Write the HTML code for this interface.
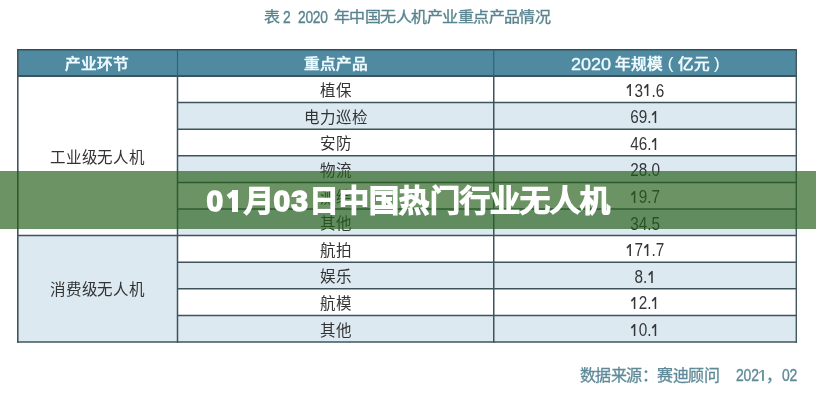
<!DOCTYPE html>
<html lang="zh-CN">
<head>
<meta charset="utf-8">
<style>
*{margin:0;padding:0;box-sizing:border-box;}
html,body{width:816px;height:400px;overflow:hidden;background:#fff;}
body{position:relative;font-family:"Liberation Sans",sans-serif;}
#w{position:absolute;left:0;top:0;width:816px;height:400px;will-change:transform;}
.title{position:absolute;left:263.5px;top:8px;font-size:16px;line-height:20px;color:#58848f;white-space:nowrap;-webkit-text-stroke:0.35px #58848f;}
.tn{display:inline-block;font-size:16px;letter-spacing:-0.3px;transform:scaleX(0.86);transform-origin:0 0;}
.tc{display:inline-block;transform:scaleY(0.9);transform-origin:50% 6px;}
.grid{position:absolute;left:0;top:0;}
.vl{position:absolute;width:1.6px;background:#3e545d;}
.h,.p,.n{position:absolute;display:flex;align-items:center;justify-content:center;white-space:nowrap;}
.h{color:#eefbff;font-size:15.6px;-webkit-text-stroke:0.75px #eefbff;padding-top:0.5px;transform:scaleY(0.93);}
.hn{font-size:18px;-webkit-text-stroke:0.4px #eefbff;position:relative;top:1.8px;}
.hp{font-size:17px;-webkit-text-stroke:0.1px #eefbff;}
.p{color:#333;font-size:15.5px;}
.l{letter-spacing:-0.3px;}
.u{padding-bottom:2px;}
.n{color:#343638;font-size:17.6px;padding-top:3.5px;}
.n span{display:inline-block;transform:scaleX(0.87);}
.one{position:relative;color:transparent;-webkit-text-stroke-color:transparent;}
.one::before,.one::after{content:"";position:absolute;background:var(--c);}
.one::before{left:0.2515em;width:0.0885em;top:0.217em;height:0.688em;}
.one::after{left:-0.04em;width:0.3em;top:0.217em;height:0.09em;transform-origin:100% 0;transform:rotate(-38deg);}
.n{--c:#343638;}
.sn{--c:#5e8a98;}
.sn .one::before{margin-left:-0.2px;width:calc(0.0885em + 0.4px);}
.ob{--c:#fff;}
.ob::before{left:calc(0.233em - 0.6px);width:calc(0.137em + 2.4px);top:calc(0.217em - 0.8px);height:calc(0.688em + 1.6px);}
.ob::after{left:calc(0.0em - 0.8px);width:0.28em;top:calc(0.217em - 0.8px);height:calc(0.1em + 1.6px);transform:rotate(-36deg);}
.src{position:absolute;top:366px;font-size:16px;line-height:20px;color:#5e8a98;white-space:nowrap;-webkit-text-stroke:0.3px #5e8a98;}
.sn{display:inline-block;font-size:16px;letter-spacing:-0.2px;-webkit-text-stroke:0.35px #5e8a98;transform:scaleX(0.87);transform-origin:0 0;position:relative;top:-0.5px;}
.banner{position:absolute;left:0;top:171px;width:816px;height:57.5px;background:rgba(37,96,25,0.68);}
.btxt{position:absolute;left:206.5px;top:181px;font-size:30px;line-height:40px;color:#fff;font-weight:normal;white-space:nowrap;-webkit-text-stroke:2.2px #fff;letter-spacing:0.15px;}
.d{font-size:30px;letter-spacing:2.2px;font-weight:bold;-webkit-text-stroke:1.6px #fff;}
</style>
</head>
<body>
<div id="w">
<div class="title"><span class="tc">表</span> <span class="tn" style="margin-left:-0.95px;margin-right:-1.2px">2</span> <span class="tn" style="margin-left:3.55px;margin-right:-4.8px">2020</span> <span class="tc" style="margin-left:1.55px;letter-spacing:-0.55px">年中国无人机产业重点产品情况</span></div>
<svg class="grid" width="816" height="400" viewBox="0 0 816 400"><rect x="17" y="49.6" width="780" height="26.40" fill="#508aa0"/><rect x="177.5" y="102.60" width="618.80" height="26.60" fill="#dce9f1"/><rect x="177.5" y="155.80" width="618.80" height="26.60" fill="#dce9f1"/><rect x="177.5" y="209.00" width="618.80" height="26.60" fill="#dce9f1"/><rect x="177.5" y="262.20" width="618.80" height="26.60" fill="#dce9f1"/><rect x="177.5" y="315.40" width="618.80" height="26.60" fill="#dce9f1"/><rect x="17.8" y="235.60" width="159.70" height="106.40" fill="#dce9f1"/><line x1="17" x2="797" y1="49.7" y2="49.7" stroke="#2f4f5c" stroke-width="1.4"/><line x1="17" x2="797" y1="76.0" y2="76.0" stroke="#3e545d" stroke-width="1.8"/><line x1="177.5" x2="797" y1="102.60" y2="102.60" stroke="#3e545d" stroke-width="1.5"/><line x1="177.5" x2="797" y1="129.20" y2="129.20" stroke="#3e545d" stroke-width="1.5"/><line x1="177.5" x2="797" y1="155.80" y2="155.80" stroke="#3e545d" stroke-width="1.5"/><line x1="177.5" x2="797" y1="182.40" y2="182.40" stroke="#3e545d" stroke-width="1.5"/><line x1="177.5" x2="797" y1="209.00" y2="209.00" stroke="#3e545d" stroke-width="1.5"/><line x1="17" x2="797" y1="235.60" y2="235.60" stroke="#3e545d" stroke-width="1.5"/><line x1="177.5" x2="797" y1="262.20" y2="262.20" stroke="#3e545d" stroke-width="1.5"/><line x1="177.5" x2="797" y1="288.80" y2="288.80" stroke="#3e545d" stroke-width="1.5"/><line x1="177.5" x2="797" y1="315.40" y2="315.40" stroke="#3e545d" stroke-width="1.5"/><line x1="17" x2="797" y1="342.00" y2="342.00" stroke="#3e545d" stroke-width="1.5"/><line x1="17.8" x2="17.8" y1="49" y2="342.75" stroke="#40555d" stroke-width="1.6"/><line x1="796.3" x2="796.3" y1="49" y2="342.75" stroke="#43575e" stroke-width="1.4"/><line x1="177.5" x2="177.5" y1="76.0" y2="342.75" stroke="#3e545d" stroke-width="1.5"/><line x1="177.5" x2="177.5" y1="50" y2="76.0" stroke="#2f6073" stroke-width="1.1"/><line x1="493.75" x2="493.75" y1="76.0" y2="342.75" stroke="#3e545d" stroke-width="1.5"/><line x1="493.75" x2="493.75" y1="50" y2="76.0" stroke="#2f6073" stroke-width="1.1"/></svg>
<div class="h" style="left:17px;width:160.50px;top:49.00px;height:27.00px">产业环节</div>
<div class="h" style="left:177.5px;width:316.25px;top:49.00px;height:27.00px">重点产品</div>
<div class="h" style="left:493.75px;width:303.25px;top:49.00px;height:27.00px"><span><span class="hn">2020</span>&nbsp;年规模&nbsp;<span class="hp">(</span>&nbsp;亿元&nbsp;<span class="hp">)</span></span></div>
<div class="p" style="left:177.5px;width:316.25px;top:76.00px;height:26.60px">植保</div>
<div class="n" style="left:493.75px;width:303.25px;top:76.00px;height:26.60px"><span><span class="one">1</span>3<span class="one">1</span>.6</span></div>
<div class="p" style="left:177.5px;width:316.25px;top:102.60px;height:26.60px">电力巡检</div>
<div class="n" style="left:493.75px;width:303.25px;top:102.60px;height:26.60px"><span>69.<span class="one">1</span></span></div>
<div class="p" style="left:177.5px;width:316.25px;top:129.20px;height:26.60px">安防</div>
<div class="n" style="left:493.75px;width:303.25px;top:129.20px;height:26.60px"><span>46.<span class="one">1</span></span></div>
<div class="p" style="left:177.5px;width:316.25px;top:155.80px;height:26.60px">物流</div>
<div class="n" style="left:493.75px;width:303.25px;top:155.80px;height:26.60px"><span>28.0</span></div>
<div class="p" style="left:177.5px;width:316.25px;top:182.40px;height:26.60px">测绘</div>
<div class="n" style="left:493.75px;width:303.25px;top:182.40px;height:26.60px"><span><span class="one">1</span>9.7</span></div>
<div class="p" style="left:177.5px;width:316.25px;top:209.00px;height:26.60px">其他</div>
<div class="n" style="left:493.75px;width:303.25px;top:209.00px;height:26.60px"><span>34.5</span></div>
<div class="p" style="left:177.5px;width:316.25px;top:235.60px;height:26.60px">航拍</div>
<div class="n" style="left:493.75px;width:303.25px;top:235.60px;height:26.60px"><span><span class="one">1</span>7<span class="one">1</span>.7</span></div>
<div class="p" style="left:177.5px;width:316.25px;top:262.20px;height:26.60px">娱乐</div>
<div class="n" style="left:493.75px;width:303.25px;top:262.20px;height:26.60px"><span>8.<span class="one">1</span></span></div>
<div class="p" style="left:177.5px;width:316.25px;top:288.80px;height:26.60px">航模</div>
<div class="n" style="left:493.75px;width:303.25px;top:288.80px;height:26.60px"><span><span class="one">1</span>2.<span class="one">1</span></span></div>
<div class="p" style="left:177.5px;width:316.25px;top:315.40px;height:26.60px">其他</div>
<div class="n" style="left:493.75px;width:303.25px;top:315.40px;height:26.60px"><span><span class="one">1</span>0.<span class="one">1</span></span></div>
<div class="p l" style="left:17px;width:160.50px;top:76.00px;height:159.60px">工业级无人机</div>
<div class="p l u" style="left:17px;width:160.50px;top:235.60px;height:106.40px">消费级无人机</div>
<div class="src" style="left:579.5px"><span style="letter-spacing:-0.5px">数据来源：赛迪顾问</span> <span class="sn" style="margin-left:12.5px;margin-right:-4px">202<span class="one">1</span></span><span style="margin-left:-0.8px">，</span><span class="sn" style="margin-left:0px">02</span></div>
<div class="banner"></div>
<div class="btxt"><span class="d">0<span class="one ob">1</span></span><span style="letter-spacing:-0.85px">月</span><span class="d" style="letter-spacing:1.2px">0</span><span class="d" style="letter-spacing:1.0px">3</span>日中国热门行业无人机</div>
</div>
</body>
</html>
